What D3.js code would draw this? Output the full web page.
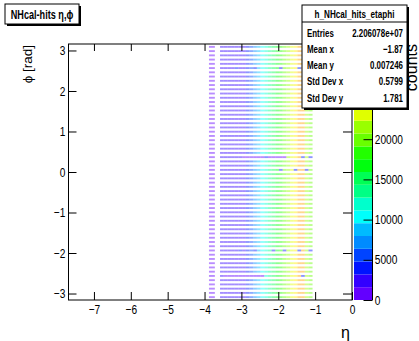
<!DOCTYPE html>
<html lang="en">
<head>
    <meta charset="UTF-8">
    <title>NHcal-hits eta,phi</title>
    <script src="https://d3js.org/d3.v7.min.js"></script>
    <style>
        body { margin: 0; background: #fff; }
        svg { display: block; font-family: "Liberation Sans", Arial, sans-serif; }
        .axis path { display: none; }
        .axis line { stroke: #000; }
        .axis text { font-size: 13px; fill: #000; }
        .stats text { font-size: 11px; font-weight: bold; }
    </style>
</head>
<body>
    <svg width="419" height="341"></svg>
    <script>
        // eta bin edges (one empty bin between the lone dash and the main band)
        const etaEdges = [-3.88, -3.72, -3.58, -3.48, -3.38, -3.28, -3.18, -3.08, -2.98, -2.88,
                          -2.78, -2.68, -2.58, -2.48, -2.38, -2.28, -2.18, -2.08, -1.98, -1.88,
                          -1.78, -1.68, -1.58, -1.48, -1.38, -1.28, -1.18, -1.07];
        // typical counts per eta bin along one phi row
        const etaCounts = [1500, 0, 1800, 1900, 2000, 2100, 2300, 2600, 3000, 3800,
                           5200, 7000, 9000, 10800, 12300, 13800, 15200, 16600, 18000, 19500,
                           21000, 22500, 24000, 25800, 27000, 22000, 20000];
        const nPhiRows = 60;
        // cells that differ from the typical row: [row from top, eta low, eta high, counts]
        const oddCells = [
            [5, -3.18, -3.08, 4200], [5, -2.68, -2.58, 4200], [5, -1.98, -1.88, 4500], [5, -1.48, -1.38, 4500],
            [26, -2.98, -1.78, 1200], [26, -2.38, -2.28, 4000], [26, -1.38, -1.28, 4500], [26, -1.18, -1.07, 4500],
            [29, -1.98, -1.88, 4500], [29, -1.58, -1.48, 4500], [29, -1.28, -1.18, 4500],
            [48, -3.08, -2.98, 4500], [48, -2.68, -2.58, 4500], [48, -2.18, -2.08, 4500],
            [48, -1.88, -1.78, 4500], [48, -1.48, -1.38, 4500], [48, -1.18, -1.07, 4500],
            [54, -3.48, -2.38, 1200], [54, -1.38, -1.28, 4500]
        ];

        const xTicks = [-7, -6, -5, -4, -3, -2, -1, 0];
        const yTicks = [-3, -2, -1, 0, 1, 2, 3];
        const zTicks = [0, 5000, 10000, 15000, 20000];  // 25000 and up sit under the stats box
        const zMax = 31840;
        const nContours = 20;

        const statsTitle = "h_NHcal_hits_etaphi";
        const statsLabels = ["Entries", "Mean x", "Mean y", "Std Dev x", "Std Dev y"];
        const statsValues = ["2.206078e+07", "\u22121.87", "0.007246", "0.5799", "1.781"];

        const svg = d3.select("svg");
        const frame = {left: 68.5, right: 352, top: 44, bottom: 300};
        const squeeze = 0.78; // ROOT's helvetica looks condensed here

        const x = d3.scaleLinear().domain([-7.69, 0]).range([frame.left, frame.right]);
        const y = d3.scaleLinear().domain([-3.16, 3.16]).range([frame.bottom, frame.top]);
        const z = d3.scaleLinear().domain([0, zMax]).range([frame.bottom, frame.top]);
        const fmt = d3.format("d");

        // ROOT "pretty palette" violet -> red, 50 colours, 20 contour levels
        function rootColor(v) {
            let k = Math.floor(v / zMax * nContours);
            k = Math.max(0, Math.min(nContours - 1, k));
            const idx = Math.floor((k + 0.99) * 50 / nContours);
            if (idx >= 49) return "#ff0000";
            return d3.hsl(280 - (idx + 1) * 5.6, 1, 0.5).formatHex();
        }

        // build cells
        const phiStep = 2 * Math.PI / nPhiRows;
        const cells = [];
        for (let j = 0; j < nPhiRows; j++) {
            const phiC = Math.PI - (j + 0.5) * phiStep;
            for (let i = 0; i < etaCounts.length; i++) {
                let v = etaCounts[i];
                const lo = etaEdges[i], hi = etaEdges[i + 1];
                oddCells.forEach(o => {
                    if (o[0] === j && lo >= o[1] - 1e-6 && hi <= o[2] + 1e-6) v = o[3];
                });
                if (v > 0) cells.push({lo, hi, phi: phiC, v});
            }
        }

        svg.append("g").selectAll("rect")
            .data(cells)
            .join("rect")
            .attr("x", d => x(d.lo))
            .attr("width", d => x(d.hi) - x(d.lo))
            .attr("y", d => y(d.phi + phiStep * 0.22))
            .attr("height", d => y(d.phi - phiStep * 0.22) - y(d.phi + phiStep * 0.22))
            .attr("fill", d => rootColor(d.v))
            .attr("fill-opacity", 0.45);

        // frame
        svg.append("rect")
            .attr("x", frame.left).attr("y", frame.top)
            .attr("width", frame.right - frame.left).attr("height", frame.bottom - frame.top)
            .attr("fill", "none").attr("stroke", "#000");

        function squeezeText(g) {
            g.selectAll("text").attr("transform", `scale(${squeeze},1)`);
        }

        svg.append("g").attr("class", "axis")
            .attr("transform", `translate(0,${frame.bottom})`)
            .call(d3.axisBottom(x).tickValues(xTicks).tickSizeInner(-8).tickSizeOuter(0).tickPadding(5).tickFormat(fmt))
            .call(squeezeText);
        svg.append("g").attr("class", "axis")
            .attr("transform", `translate(0,${frame.top})`)
            .call(d3.axisTop(x).tickValues(xTicks).tickSizeInner(-7).tickSizeOuter(0).tickFormat(""));
        svg.append("g").attr("class", "axis")
            .attr("transform", `translate(${frame.left},0)`)
            .call(d3.axisLeft(y).tickValues(yTicks).tickSizeInner(-8).tickSizeOuter(0).tickPadding(4).tickFormat(fmt))
            .call(squeezeText);
        svg.append("g").attr("class", "axis")
            .attr("transform", `translate(${frame.right},0)`)
            .call(d3.axisRight(y).tickValues(yTicks).tickSizeInner(-9).tickSizeOuter(0).tickFormat(""));

        // colour bar
        const barX0 = 354, barX1 = 372.5;
        const levels = d3.range(nContours).map(k => k * zMax / nContours);
        svg.append("g").selectAll("rect")
            .data(levels)
            .join("rect")
            .attr("x", barX0)
            .attr("width", barX1 - barX0)
            .attr("y", d => z(d + zMax / nContours))
            .attr("height", d => z(d) - z(d + zMax / nContours))
            .attr("fill", d => rootColor(d + 1));
        svg.append("line")
            .attr("x1", barX1).attr("x2", barX1).attr("y1", frame.top).attr("y2", frame.bottom)
            .attr("stroke", "#000");
        svg.append("g").attr("class", "axis")
            .attr("transform", `translate(${barX1},0)`)
            .call(d3.axisRight(z).tickValues(zTicks).tickSizeInner(-9).tickSizeOuter(0).tickPadding(3).tickFormat(fmt))
            .call(squeezeText);

        // axis titles
        svg.append("text")
            .attr("x", frame.right - 2).attr("y", 338)
            .attr("text-anchor", "end").attr("font-size", 16).text("\u03b7");
        svg.append("text")
            .attr("transform", `translate(32,${frame.top + 1}) rotate(-90)`)
            .attr("text-anchor", "end").attr("font-size", 13.5).text("\u03d5 [rad]");
        svg.append("text")
            .attr("transform", `translate(416.5,${frame.top}) rotate(-90)`)
            .attr("text-anchor", "end").attr("font-size", 16).text("counts");

        // title box
        const tb = svg.append("g");
        tb.append("rect").attr("x", 7).attr("y", 6).attr("width", 74).attr("height", 20).attr("fill", "#000");
        tb.append("rect").attr("x", 5).attr("y", 4).attr("width", 74).attr("height", 20)
            .attr("fill", "#fff").attr("stroke", "#000");
        tb.append("text").attr("transform", `translate(42,18.5) scale(0.76,1)`).attr("text-anchor", "middle")
            .attr("font-size", 12).attr("font-weight", "bold").text("NHcal-hits \u03b7,\u03d5");

        // stats box
        const sb = svg.append("g").attr("class", "stats");
        const sx0 = 302, sx1 = 407, sy0 = 5, sy1 = 108;
        sb.append("rect").attr("x", sx0 + 2).attr("y", sy0 + 2).attr("width", sx1 - sx0).attr("height", sy1 - sy0).attr("fill", "#000");
        sb.append("rect").attr("x", sx0).attr("y", sy0).attr("width", sx1 - sx0).attr("height", sy1 - sy0)
            .attr("fill", "#fff").attr("stroke", "#000");
        sb.append("line").attr("x1", sx0).attr("x2", sx1).attr("y1", 22).attr("y2", 22).attr("stroke", "#000");
        sb.append("text").attr("transform", `translate(${(sx0 + sx1) / 2},18) scale(0.74,1)`)
            .attr("text-anchor", "middle").attr("font-size", 12).text(statsTitle);
        const rowY = d3.scalePoint().domain(statsLabels).range([36.5, 101.5]);
        sb.selectAll("text.lab").data(statsLabels).join("text").attr("class", "lab")
            .attr("transform", d => `translate(${sx0 + 5},${rowY(d)}) scale(0.72,1)`).text(d => d);
        sb.selectAll("text.val").data(statsValues).join("text").attr("class", "val")
            .attr("transform", (d, i) => `translate(${sx1 - 4},${rowY(statsLabels[i])}) scale(0.72,1)`)
            .attr("text-anchor", "end").text(d => d);
    </script>
</body>
</html>
